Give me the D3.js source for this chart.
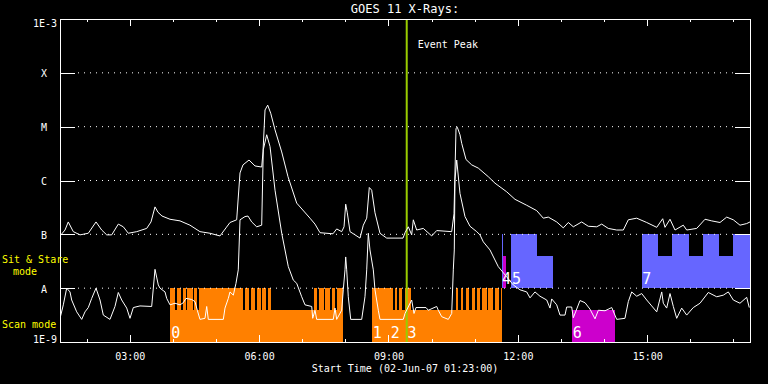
<!DOCTYPE html>
<html>
<head>
<meta charset="utf-8">
<script src="https://d3js.org/d3.v7.min.js"></script>
<style>
body{margin:0;background:#000;}
svg text{font-family:"DejaVu Sans Mono",monospace;}
rect,.tick line,.domain{shape-rendering:crispEdges;}
</style>
</head>
<body>
<div id="chart"></div>
<script>
// time in hours after plot start (02-Jun-07 01:23:00), flux as log10(W/m2)
var startTime=new Date(2007,5,2,1,23,0);
var spanHours=16;
var eventPeakHour=8.04;

var longChannel=[[0.000,-7.03],[0.116,-6.92],[0.192,-6.77],[0.308,-6.95],[0.464,-7.01],[0.656,-6.98],[0.835,-6.77],[0.967,-6.92],[1.083,-7.01],[1.199,-7.01],[1.352,-6.81],[1.468,-6.86],[1.584,-6.98],[1.779,-6.95],[2.010,-6.89],[2.110,-6.77],[2.203,-6.49],[2.272,-6.59],[2.365,-6.66],[2.551,-6.72],[2.783,-6.75],[3.014,-6.83],[3.246,-6.95],[3.478,-6.98],[3.710,-7.03],[3.849,-6.88],[3.942,-6.78],[4.097,-6.73],[4.174,-5.86],[4.243,-5.71],[4.383,-5.62],[4.522,-5.73],[4.677,-5.75],[4.707,-5.47],[4.754,-4.69],[4.816,-4.60],[4.886,-4.75],[4.986,-5.06],[5.141,-5.47],[5.287,-5.93],[5.489,-6.42],[5.797,-6.70],[5.913,-6.81],[6.029,-6.97],[6.330,-6.99],[6.416,-6.90],[6.532,-6.95],[6.586,-6.86],[6.625,-6.44],[6.662,-6.60],[6.725,-6.95],[6.957,-7.07],[7.033,-6.83],[7.112,-6.70],[7.172,-6.13],[7.228,-6.18],[7.304,-6.60],[7.420,-6.98],[7.576,-7.07],[7.954,-7.07],[8.000,-6.97],[8.077,-6.86],[8.155,-7.01],[8.193,-6.73],[8.271,-6.92],[8.424,-6.89],[8.619,-7.03],[8.735,-6.93],[9.083,-6.95],[9.136,-6.62],[9.183,-5.03],[9.213,-5.01],[9.275,-5.15],[9.315,-5.31],[9.415,-5.61],[9.547,-5.71],[9.700,-5.77],[9.932,-5.93],[10.087,-6.05],[10.358,-6.21],[10.551,-6.35],[10.822,-6.46],[11.054,-6.56],[11.207,-6.70],[11.323,-6.68],[11.518,-6.77],[11.671,-6.88],[11.787,-6.78],[11.903,-6.86],[12.097,-6.77],[12.250,-6.85],[12.445,-6.86],[12.561,-6.81],[12.714,-6.89],[12.909,-6.92],[13.062,-6.92],[13.178,-6.73],[13.373,-6.70],[13.605,-6.78],[13.837,-6.87],[13.976,-6.71],[14.029,-6.87],[14.145,-6.72],[14.261,-6.92],[14.453,-6.83],[14.532,-6.92],[14.764,-6.89],[14.957,-6.72],[15.112,-6.75],[15.304,-6.78],[15.460,-6.68],[15.613,-6.73],[15.768,-6.83],[15.923,-6.80],[16.000,-6.77]];

var shortChannel=[[0.000,-8.56],[0.077,-8.31],[0.155,-8.00],[0.232,-8.07],[0.271,-8.22],[0.387,-8.44],[0.503,-8.58],[0.580,-8.44],[0.656,-8.36],[0.735,-8.19],[0.835,-8.00],[0.928,-8.22],[1.004,-8.50],[1.159,-8.58],[1.275,-8.34],[1.352,-8.08],[1.431,-8.22],[1.547,-8.37],[1.623,-8.56],[1.700,-8.36],[1.855,-8.33],[2.126,-8.34],[2.203,-7.65],[2.279,-7.94],[2.319,-8.00],[2.435,-8.07],[2.474,-8.19],[2.551,-8.31],[2.667,-8.28],[2.783,-8.31],[2.859,-8.27],[2.922,-8.19],[3.054,-8.21],[3.130,-8.25],[3.184,-8.41],[3.246,-8.58],[3.362,-8.56],[3.402,-8.34],[3.439,-8.58],[3.787,-8.58],[3.826,-8.37],[3.903,-8.19],[3.942,-8.07],[4.019,-8.13],[4.081,-7.91],[4.134,-7.66],[4.174,-6.73],[4.290,-6.67],[4.359,-6.66],[4.445,-6.77],[4.561,-6.86],[4.677,-6.83],[4.714,-5.43],[4.793,-5.15],[4.870,-5.37],[4.986,-6.18],[5.141,-6.98],[5.294,-7.60],[5.410,-7.85],[5.489,-7.91],[5.605,-8.16],[5.681,-8.31],[5.837,-8.34],[5.860,-8.56],[5.913,-8.41],[5.952,-8.58],[6.337,-8.58],[6.377,-8.37],[6.416,-8.58],[6.532,-8.41],[6.569,-8.03],[6.609,-7.66],[6.625,-7.42],[6.648,-7.66],[6.685,-8.16],[6.741,-8.58],[6.996,-8.58],[7.072,-8.16],[7.112,-7.66],[7.149,-6.98],[7.188,-7.29],[7.265,-7.66],[7.304,-8.03],[7.381,-8.41],[7.420,-8.58],[7.960,-8.58],[8.000,-8.47],[8.155,-8.22],[8.209,-8.47],[8.255,-8.36],[8.487,-8.36],[8.540,-8.41],[8.735,-8.34],[8.772,-8.41],[8.851,-8.53],[9.004,-8.58],[9.083,-8.47],[9.120,-7.66],[9.143,-7.29],[9.159,-5.99],[9.199,-5.62],[9.275,-6.24],[9.391,-6.67],[9.507,-6.85],[9.663,-6.95],[9.739,-7.01],[9.816,-7.14],[9.971,-7.29],[10.163,-7.60],[10.358,-7.79],[10.511,-7.94],[10.667,-8.03],[10.822,-8.07],[10.899,-8.18],[11.014,-8.07],[11.130,-8.15],[11.286,-8.22],[11.362,-8.37],[11.402,-8.20],[11.518,-8.31],[11.594,-8.50],[11.710,-8.50],[11.749,-8.35],[11.865,-8.35],[11.903,-8.55],[12.058,-8.23],[12.174,-8.27],[12.290,-8.39],[12.406,-8.57],[12.483,-8.41],[12.638,-8.42],[12.794,-8.36],[12.909,-8.58],[13.101,-8.56],[13.178,-8.25],[13.257,-8.07],[13.373,-8.15],[13.489,-8.10],[13.605,-8.22],[13.721,-8.33],[13.837,-8.44],[13.953,-8.07],[13.990,-8.28],[14.068,-8.37],[14.145,-8.10],[14.222,-8.34],[14.300,-8.56],[14.416,-8.37],[14.532,-8.50],[14.685,-8.36],[14.841,-8.28],[15.033,-8.08],[15.228,-8.16],[15.381,-8.13],[15.497,-8.07],[15.613,-8.22],[15.768,-8.28],[15.923,-8.17],[15.983,-8.36]];

// observation intervals [start hour, end hour]
var scanBase=[[2.551,6.191],[6.214,6.555],[7.228,10.256]];
var scanFull=[[2.551,2.667],[2.706,2.799],[2.845,2.922],[2.952,3.077],[3.114,3.177],[3.223,4.250],[4.297,4.390],[4.429,4.522],[4.561,4.654],[4.691,4.777],[4.816,4.893],[5.890,5.952],[6.013,6.122],[6.152,6.261],[6.300,6.377],[6.416,6.555],[7.228,7.729],[7.768,7.821],[7.868,7.923],[8.000,8.139],[9.183,9.236],[9.291,9.352],[9.414,9.491],[9.547,9.623],[9.662,9.739],[9.778,9.894],[9.932,10.047],[10.087,10.180],[10.219,10.256]];
var stareBase=[[10.458,11.425],[13.489,16.0]];
var stareFull=[[10.242,10.280],[10.458,11.054],[13.489,13.875],[14.198,14.586],[14.903,15.288],[15.613,16.0]];
var otherScan=[[11.865,12.870]];
var otherStare=[[10.265,10.335]];

var obsNames=["0","1","2","3","4","5","6","7"];
var obsHours=[2.58,7.25,7.67,8.06,10.25,10.48,11.89,13.50];
var obsMode=["scan","scan","scan","scan","stare","stare","scan","stare"];

var yTickValues=[1e-9,1e-8,1e-7,1e-6,1e-5,1e-4,1e-3];
var yTickLabels=["1E-9","A","B","C","M","X","1E-3"];

var pLeft=60,pRight=750,pTop=19,pBottom=342;
var orange="#ff8000",blue="#6666ff",magenta="#cc00cc",peakColor="#99cc00";

function hourDate(h){return new Date(startTime.getTime()+h*3600000);}

var x=d3.scaleTime().domain([startTime,hourDate(spanHours)]).range([pLeft,pRight]);
var y=d3.scaleLog().domain([1e-9,1e-3]).range([pBottom,pTop]);

var svg=d3.select("#chart").append("svg")
	.attr("width",768).attr("height",384)
	.style("background","#000").style("display","block");

svg.append("clipPath").attr("id","plotclip").append("rect")
	.attr("x",pLeft).attr("y",pTop).attr("width",pRight-pLeft).attr("height",pBottom-pTop);

// mode bands: scan = 1E-9..A, sit & stare = A..B ; partial bars reach 0.6 decade
var bands={scan:[1e-9,1e-8],stare:[1e-8,1e-7]};
function drawBars(list,band,full,color){
	var lo=bands[band][0], hi=full?bands[band][1]:lo*Math.pow(10,0.6);
	svg.append("g").selectAll("rect").data(list).enter().append("rect")
		.attr("x",function(d){return x(hourDate(d[0]));})
		.attr("width",function(d){return x(hourDate(d[1]))-x(hourDate(d[0]));})
		.attr("y",y(hi))
		.attr("height",y(lo)-y(hi))
		.style("fill",color);
}
drawBars(scanBase,"scan",false,orange);
drawBars(scanFull,"scan",true,orange);
drawBars(stareBase,"stare",false,blue);
drawBars(stareFull,"stare",true,blue);
drawBars(otherScan,"scan",false,magenta);
drawBars(otherStare,"stare",false,magenta);

svg.append("g").selectAll("text").data(obsNames).enter().append("text")
	.attr("x",function(d,i){return x(hourDate(obsHours[i]));})
	.attr("y",function(d,i){return y(bands[obsMode[i]][0])-4;})
	.attr("font-size",15).attr("fill","#fff")
	.text(function(d){return d;});

// dotted grid at class levels
svg.append("g").selectAll("line").data(yTickValues.slice(1,6)).enter().append("line")
	.attr("x1",pLeft+18).attr("x2",pRight-15)
	.attr("y1",function(d){return y(d);}).attr("y2",function(d){return y(d);})
	.attr("stroke","#fff").attr("stroke-width",1).attr("stroke-dasharray","1,5");

// event peak
svg.append("line")
	.attr("x1",x(hourDate(eventPeakHour))).attr("x2",x(hourDate(eventPeakHour)))
	.attr("y1",pTop).attr("y2",pBottom)
	.attr("stroke",peakColor).attr("stroke-width",2);
svg.append("text").attr("x",x(hourDate(eventPeakHour))+11).attr("y",48)
	.attr("font-size",10).attr("fill","#fff").text("Event Peak");

// curves
var line=d3.line()
	.x(function(d){return x(hourDate(d[0]));})
	.y(function(d){return y(Math.pow(10,d[1]));});
svg.append("g").attr("clip-path","url(#plotclip)").selectAll("path")
	.data([longChannel,shortChannel]).enter().append("path")
	.attr("d",line).attr("fill","none").attr("stroke","#fff").attr("stroke-width",1);

// axes
function styleAxis(g){
	g.selectAll("path,line").attr("stroke","#fff");
	g.selectAll("text").attr("fill","#fff").attr("font-family","DejaVu Sans Mono").attr("font-size",10);
}
svg.append("g").attr("transform","translate(0,"+pBottom+")")
	.call(d3.axisBottom(x).ticks(d3.timeHour.every(1)).tickFormat("").tickSizeInner(-3).tickSizeOuter(0)).call(styleAxis);
svg.append("g").attr("transform","translate(0,"+pBottom+")")
	.call(d3.axisBottom(x).ticks(d3.timeHour.every(3)).tickFormat(d3.timeFormat("%H:%M")).tickSizeInner(-7).tickSizeOuter(0).tickPadding(11)).call(styleAxis);
svg.append("g").attr("transform","translate(0,"+pTop+")")
	.call(d3.axisTop(x).ticks(d3.timeHour.every(1)).tickFormat("").tickSizeInner(-3).tickSizeOuter(0)).call(styleAxis);
svg.append("g").attr("transform","translate(0,"+pTop+")")
	.call(d3.axisTop(x).ticks(d3.timeHour.every(3)).tickFormat("").tickSizeInner(-7).tickSizeOuter(0)).call(styleAxis);

var yAxisL=svg.append("g").attr("transform","translate("+pLeft+",0)")
	.call(d3.axisLeft(y).tickValues(yTickValues).tickFormat(function(d,i){return yTickLabels[i];}).tickSizeInner(-15).tickSizeOuter(0).tickPadding(3))
	.call(styleAxis);
yAxisL.selectAll(".tick text")
	.attr("x",function(d,i){return yTickLabels[i].length>1?-3:-16;})
	.attr("text-anchor",function(d,i){return yTickLabels[i].length>1?"end":"middle";})
	.attr("dy",function(d,i){return i==0?"-0.0em":(i==6?"0.75em":"0.4em");});
svg.append("g").attr("transform","translate("+pRight+",0)")
	.call(d3.axisRight(y).tickValues(yTickValues).tickFormat("").tickSizeInner(-15).tickSizeOuter(0))
	.call(styleAxis);

// titles and band names
svg.append("text").attr("x",(pLeft+pRight)/2).attr("y",13).attr("text-anchor","middle")
	.attr("font-size",12).attr("fill","#fff").text("GOES 11 X-Rays:");
svg.append("text").attr("x",(pLeft+pRight)/2).attr("y",372).attr("text-anchor","middle")
	.attr("font-size",10).attr("fill","#fff").text("Start Time (02-Jun-07 01:23:00)");
svg.append("text").attr("x",2).attr("y",263).attr("font-size",10).attr("fill","#ffff00").text("Sit & Stare");
svg.append("text").attr("x",13).attr("y",275).attr("font-size",10).attr("fill","#ffff00").text("mode");
svg.append("text").attr("x",2).attr("y",328).attr("font-size",10).attr("fill","#ffff00").text("Scan mode");
</script>
</body>
</html>
